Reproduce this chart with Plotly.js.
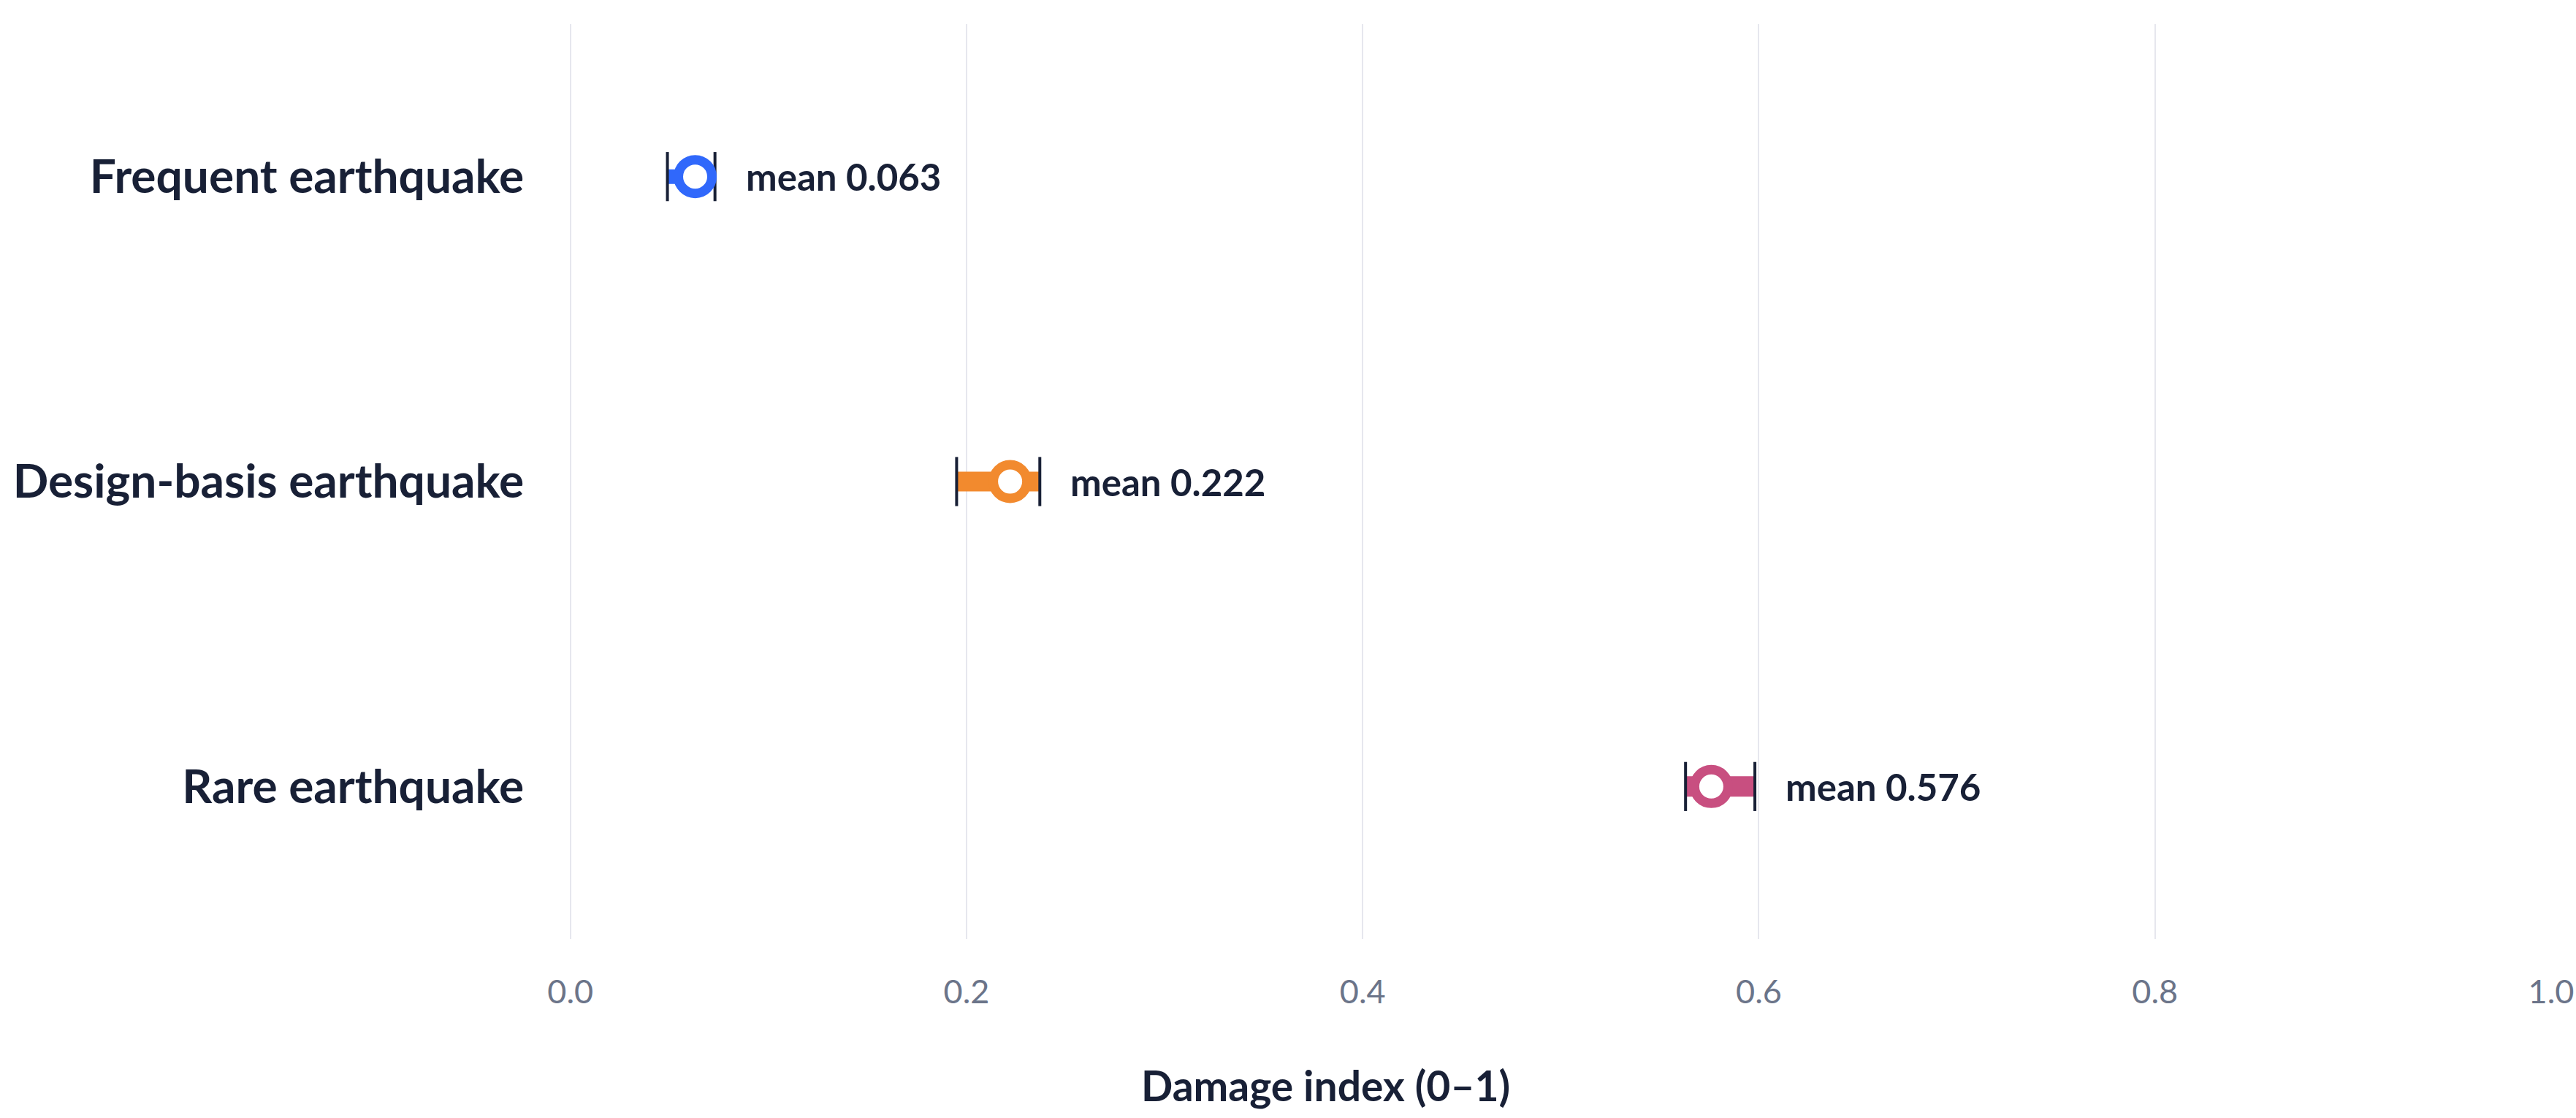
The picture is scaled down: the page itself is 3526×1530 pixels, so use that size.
<!DOCTYPE html>
<html>
<head>
<meta charset="utf-8">
<script src="https://cdn.plot.ly/plotly-3.0.1.min.js"></script>
<style>
  html, body { margin: 0; padding: 0; background: #ffffff; }
  #chart { width: 3526px; height: 1530px; }
</style>
</head>
<body>
<div id="chart"></div>
<script>
// Data
const categories = ['Frequent earthquake', 'Design-basis earthquake', 'Rare earthquake'];
const means = [0.063, 0.222, 0.576];
const lows = [0.049, 0.195, 0.563];
const highs = [0.073, 0.237, 0.598];
const xTickVals = [0, 0.2, 0.4, 0.6, 0.8, 1.0];
const xTickText = ['0.0', '0.2', '0.4', '0.6', '0.8', '1.0'];

const colors = ['#3068fb', '#f28a2e', '#c84f80'];
const barWidths = [20, 27, 28];
const dark = '#182036';
const FONT = 'Lato, "Open Sans", sans-serif';

const traces = [];
// thick interval bars
categories.forEach((c, i) => {
  traces.push({
    type: 'scatter', mode: 'lines',
    x: [lows[i], highs[i]], y: [c, c],
    line: { color: colors[i], width: barWidths[i] },
    hoverinfo: 'skip', showlegend: false
  });
});
// caps at low and high
traces.push({
  type: 'scatter', mode: 'markers',
  x: lows.concat(highs), y: categories.concat(categories),
  marker: { symbol: 'line-ns-open', size: 48, color: dark, line: { color: dark, width: 4 } },
  hoverinfo: 'skip', showlegend: false
});
// mean markers
traces.push({
  type: 'scatter', mode: 'markers',
  x: means, y: categories,
  marker: { symbol: 'circle', size: 46, color: '#ffffff', line: { color: colors, width: 13 } },
  showlegend: false
});

const annotations = categories.map((c, i) => ({
  x: highs[i], y: c, xref: 'x', yref: 'y',
  text: 'mean ' + means[i].toFixed(3),
  showarrow: false, xanchor: 'left', yanchor: 'middle', xshift: 40,
  font: { family: FONT, size: 51, color: dark, weight: 700 }
}));
annotations.push({
  x: 0.382, y: -0.16, xref: 'paper', yref: 'paper',
  text: 'Damage index (0–1)', showarrow: false,
  xanchor: 'center', yanchor: 'middle',
  font: { family: FONT, size: 57, color: dark, weight: 700 }
});

const layout = {
  width: 3526, height: 1530,
  paper_bgcolor: '#ffffff', plot_bgcolor: '#ffffff',
  margin: { l: 778, r: 34, t: 33, b: 245 },
  font: { family: FONT, color: dark },
  xaxis: {
    range: [-0.001, 1], autorange: false, tickvals: xTickVals, ticktext: xTickText,
    showgrid: true, gridcolor: '#e6e7ee', gridwidth: 2,
    zeroline: false, showline: false,
    ticks: 'outside', ticklen: 33, tickcolor: 'rgba(0,0,0,0)',
    tickfont: { family: FONT, size: 45, color: '#6b7489' }
  },
  yaxis: {
    type: 'category', categoryorder: 'array', categoryarray: categories,
    range: [2.5, -0.5], autorange: false,
    showgrid: false, zeroline: false, showline: false,
    ticks: 'outside', ticklen: 47, tickcolor: 'rgba(0,0,0,0)',
    tickfont: { family: FONT, size: 64, color: dark, weight: 700 }
  },
  annotations: annotations,
  showlegend: false
};

Plotly.newPlot('chart', traces, layout, { displayModeBar: false, staticPlot: true });
</script>
</body>
</html>
